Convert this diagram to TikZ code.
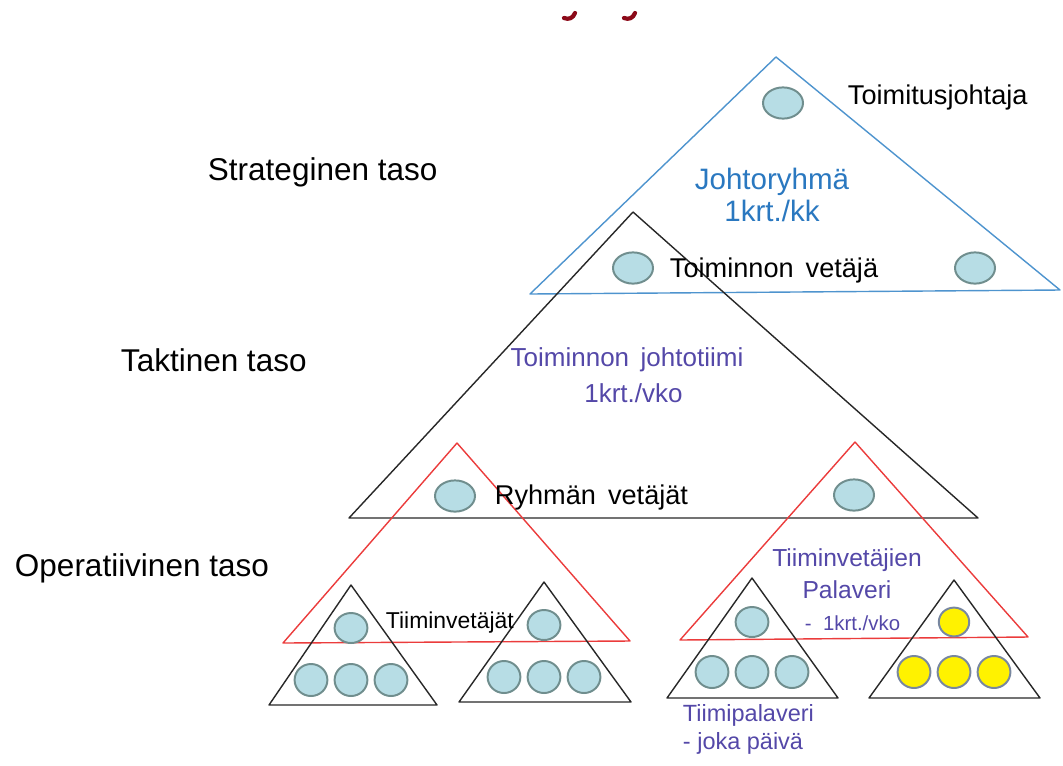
\documentclass[tikz,border=0pt]{standalone}
\usepackage{fontspec}
\setmainfont{Liberation Sans}
\usetikzlibrary{shapes.geometric}
\definecolor{jtblue}{RGB}{42,120,192}
\definecolor{jtpurple}{RGB}{84,72,168}
\definecolor{tealfill}{RGB}{183,221,229}
\definecolor{tealline}{RGB}{112,142,142}
\definecolor{yellowline}{RGB}{120,135,160}
\definecolor{triblue}{RGB}{78,148,206}
\definecolor{trired}{RGB}{235,60,60}
\definecolor{tridark}{RGB}{40,40,40}
\definecolor{titlered}{RGB}{140,10,25}
\tikzset{
  member/.style={ellipse, draw=tealline, fill=tealfill, line width=1.4pt,
    inner sep=0pt, minimum width=1cm, minimum height=0.78cm},
  teammember/.style={member, minimum width=0.82cm, minimum height=0.8cm},
  yellowmember/.style={teammember, draw=yellowline, fill=yellow},
  levellabel/.style={anchor=west, font=\fontsize{22.4}{26}\selectfont},
  rolelabel/.style={anchor=west, font=\fontsize{19.3}{23}\selectfont},
  tri/.style={line width=1pt, line join=round}
}
\begin{document}
\begin{tikzpicture}[x=0.025cm, y=-0.025cm]
\useasboundingbox (0,0) rectangle (1063,765);
% cut-off title
\draw[titlered, line width=3pt, line cap=round] (564,18) .. controls (569,20) and (573,18) .. (575,13);
\draw[titlered, line width=3pt, line cap=round] (624,18) .. controls (629,20) and (633,18) .. (635,13);
% triangle corners
\coordinate (blueTop) at (776,57);
\coordinate (blueLeft) at (530,294);
\coordinate (blueRight) at (1060,290);
\coordinate (tacTop) at (633,212);
\coordinate (tacLeft) at (349,518);
\coordinate (tacRight) at (978,518);
\coordinate (redLTop) at (457,443);
\coordinate (redLLeft) at (283,643);
\coordinate (redLRight) at (630,641);
\coordinate (redRTop) at (855,442);
\coordinate (redRLeft) at (680,640);
\coordinate (redRRight) at (1028,637);
\coordinate (teamATop) at (351,585);
\coordinate (teamALeft) at (269,705);
\coordinate (teamARight) at (437,705);
\coordinate (teamBTop) at (544,582);
\coordinate (teamBLeft) at (459,702);
\coordinate (teamBRight) at (631,702);
\coordinate (teamCTop) at (752,578);
\coordinate (teamCLeft) at (667,698);
\coordinate (teamCRight) at (838,698);
\coordinate (teamDTop) at (954,580);
\coordinate (teamDLeft) at (869,698);
\coordinate (teamDRight) at (1040,698);
\begin{scope}[every path/.style={tri}]
\draw[triblue] (blueTop) -- (blueRight) -- (blueLeft) -- cycle;
\draw[tridark] (tacTop) -- (tacRight) -- (tacLeft) -- cycle;
\draw[trired] (redLTop) -- (redLRight) -- (redLLeft) -- cycle;
\draw[trired] (redRTop) -- (redRRight) -- (redRLeft) -- cycle;
\draw[tridark] (teamATop) -- (teamARight) -- (teamALeft) -- cycle;
\draw[tridark] (teamBTop) -- (teamBRight) -- (teamBLeft) -- cycle;
\draw[tridark] (teamCTop) -- (teamCRight) -- (teamCLeft) -- cycle;
\draw[tridark] (teamDTop) -- (teamDRight) -- (teamDLeft) -- cycle;
\end{scope}
\begin{scope}[every node/.style={member}]
\node (ceo) at (783,103) {};
\node (headL) at (633,268) {};
\node (headR) at (975,268) {};
\node (groupL) at (455,496) {};
\node (groupR) at (854,495) {};
\end{scope}
\begin{scope}[every node/.style={teammember}]
\node[minimum height=0.75cm] (leadA) at (351,628) {};
\node[minimum height=0.75cm] (leadB) at (544,625) {};
\node[minimum height=0.75cm] (leadC) at (752,622) {};
\node (a1) at (311,680) {};
\node (a2) at (351,680) {};
\node (a3) at (391,680) {};
\node (b1) at (504,677) {};
\node (b2) at (544,677) {};
\node (b3) at (584,677) {};
\node (c1) at (712,672) {};
\node (c2) at (752,672) {};
\node (c3) at (792,672) {};
\end{scope}
\begin{scope}[every node/.style={yellowmember}]
\node[minimum width=0.76cm, minimum height=0.72cm] (leadD) at (954,622) {};
\node (d1) at (914,672) {};
\node (d2) at (954,672) {};
\node (d3) at (994,672) {};
\end{scope}
\node[levellabel] (strat) at (203,172) {Strateginen taso};
\node[levellabel] (tact) at (116,360) {Taktinen taso};
\node[levellabel] (oper) at (10,568) {Operatiivinen taso};
\node[rolelabel] (ceoText) at (843,97) {Toimitusjohtaja};
\node[rolelabel] (headText) at (665,270) {Toiminnon\ \,vetäjä};
\node[rolelabel] (groupText) at (490,497) {Ryhmän\ \,vetäjät};
\node[anchor=west, font=\fontsize{16.3}{20}\selectfont] (leadText) at (381,623) {Tiiminvetäjät};
\node[jtblue, align=center, font=\fontsize{21}{22.7}\selectfont] (board) at (772,195) {Johtoryhmä\\1krt./kk};
\node[jtpurple, align=center, font=\fontsize{18.5}{25.5}\selectfont] (unit) at (627,375) {Toiminnon\ \,johtotiimi\\\hspace*{0.5em}1krt./vko};
\node[jtpurple, align=center, font=\fontsize{17.5}{22.7}\selectfont] (leads) at (847,574) {Tiiminvetäjien\\Palaveri};
\node[jtpurple, anchor=west, font=\fontsize{14.5}{18}\selectfont] (leadsFreq) at (800,623) {-\ \ 1krt./vko};
\node[jtpurple, align=left, anchor=west, font=\fontsize{16.7}{20}\selectfont] (team) at (678,729) {Tiimipalaveri\\- joka päivä};
\end{tikzpicture}
\end{document}
